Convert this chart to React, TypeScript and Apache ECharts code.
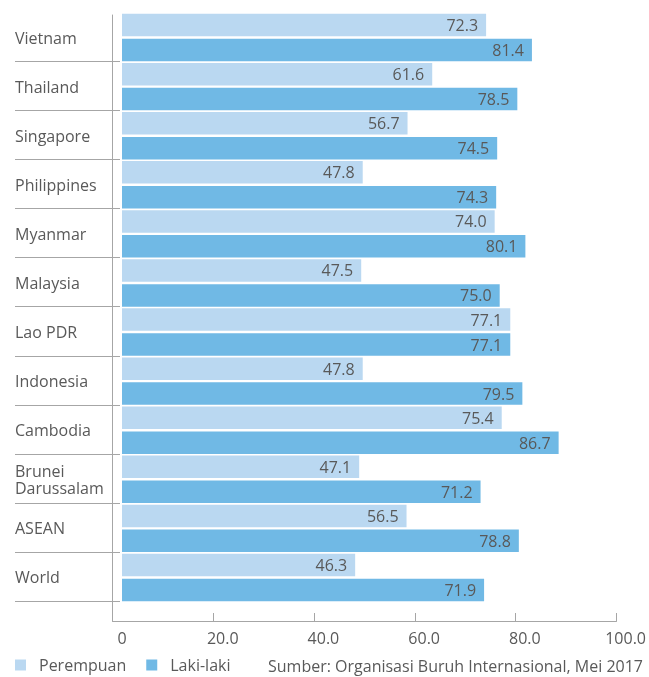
import React, { useEffect, useRef } from "react";
import * as echarts from "echarts";

const categories = [
  "Vietnam",
  "Thailand",
  "Singapore",
  "Philippines",
  "Myanmar",
  "Malaysia",
  "Lao PDR",
  "Indonesia",
  "Cambodia",
  "Brunei\nDarussalam",
  "ASEAN",
  "World",
];
const perempuan = [72.3, 61.6, 56.7, 47.8, 74.0, 47.5, 77.1, 47.8, 75.4, 47.1, 56.5, 46.3];
const lakiLaki = [81.4, 78.5, 74.5, 74.3, 80.1, 75.0, 77.1, 79.5, 86.7, 71.2, 78.8, 71.9];
const xMin = 0;
const xMax = 100;
const xInterval = 20;
const seriesNames = ["Perempuan", "Laki-laki"];
const sourceText = "Sumber: Organisasi Buruh Internasional, Mei 2017";

const LIGHT = "#BAD8F1";
const DARK = "#70B9E5";
const TEXT = "#595959";
const LINE = "#A6A6A6";
const FONT = "'Open Sans', sans-serif";

export default function App() {
  const ref = useRef<HTMLDivElement>(null);
  useEffect(() => {
    if (!ref.current) return;
    const chart = echarts.init(ref.current, undefined, { renderer: "svg" });
    const fmt = (v: number) => (v === 0 ? "0" : v.toFixed(1));
    const barLabel = {
      show: true,
      position: "insideRight",
      distance: 8,
      color: TEXT,
      fontSize: 16,
      fontFamily: FONT,
      formatter: (p: any) => Number(p.value).toFixed(1),
    };
    chart.setOption({
      animation: false,
      textStyle: { fontFamily: FONT },
      grid: [
        { left: 122, top: 13, width: 504, height: 589 },
        { left: 15, top: 11.7, width: 105, height: 590 },
        { left: 112.5, top: 15, width: 504, height: 606 },
      ],
      xAxis: [
        {
          gridIndex: 0,
          type: "value",
          min: xMin,
          max: xMax,
          interval: xInterval,
          axisLine: { show: false },
          axisTick: { show: false },
          splitLine: { show: false },
          axisLabel: {
            margin: 28,
            color: TEXT,
            fontSize: 16,
            fontFamily: FONT,
            formatter: fmt,
          },
        },
        { gridIndex: 1, type: "value", show: false },
        {
          gridIndex: 2,
          type: "value",
          min: xMin,
          max: xMax,
          interval: xInterval,
          axisLine: { show: true, onZero: false, lineStyle: { color: LINE, width: 1 } },
          axisTick: { show: true, inside: true, length: 8, lineStyle: { color: LINE } },
          axisLabel: { show: false },
          splitLine: { show: false },
        },
      ],
      yAxis: [
        {
          gridIndex: 0,
          type: "category",
          inverse: true,
          data: categories,
          axisLine: { show: false },
          axisTick: { show: false },
          axisLabel: {
            align: "left",
            margin: 107,
            color: TEXT,
            fontSize: 16,
            lineHeight: 17,
            fontFamily: FONT,
          },
        },
        {
          gridIndex: 1,
          type: "category",
          inverse: true,
          data: categories,
          axisLine: { show: false },
          axisTick: { show: false },
          axisLabel: { show: false },
          splitLine: { show: true, showMinLine: false, lineStyle: { color: LINE, width: 1 } },
        },
        {
          gridIndex: 2,
          type: "value",
          min: 0,
          max: 1,
          axisLine: { show: true, onZero: false, lineStyle: { color: LINE, width: 1 } },
          axisTick: { show: false },
          axisLabel: { show: false },
          splitLine: { show: false },
        },
      ],
      legend: {
        data: seriesNames,
        left: 15,
        top: 657,
        padding: 0,
        icon: "rect",
        itemWidth: 11,
        itemHeight: 11,
        itemGap: 20,
        formatter: (name: string) => "{t|" + name + "}",
        textStyle: {
          color: TEXT,
          fontSize: 16,
          fontFamily: FONT,
          rich: {
            t: { color: TEXT, fontSize: 16, fontFamily: FONT, padding: [0, 0, 0, 8] },
          },
        },
      },
      graphic: [
        {
          type: "text",
          left: 268,
          top: 658,
          style: { text: sourceText, fill: TEXT, fontSize: 16, lineHeight: 16, fontFamily: FONT },
        },
      ],
      series: [
        {
          name: seriesNames[0],
          type: "bar",
          xAxisIndex: 0,
          yAxisIndex: 0,
          data: perempuan,
          barWidth: 22.5,
          barGap: "11%",
          itemStyle: { color: LIGHT },
          label: barLabel,
        },
        {
          name: seriesNames[1],
          type: "bar",
          xAxisIndex: 0,
          yAxisIndex: 0,
          data: lakiLaki,
          barWidth: 22.5,
          barGap: "11%",
          itemStyle: { color: DARK },
          label: barLabel,
        },
      ],
    });
    return () => chart.dispose();
  }, []);
  return (
    <div
      ref={ref}
      style={{ position: "fixed", left: 0, top: 0, width: 649, height: 677 }}
    />
  );
}
